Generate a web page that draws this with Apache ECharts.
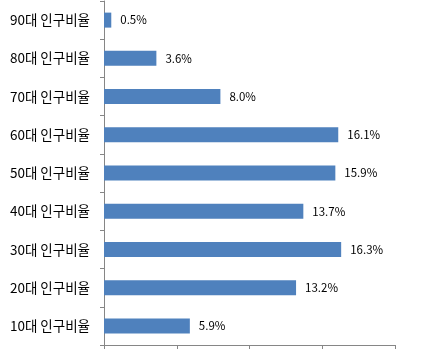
<!DOCTYPE html>
<html><head><meta charset="utf-8">
<script src="https://cdn.jsdelivr.net/npm/echarts@6/dist/echarts.min.js"></script>
<style>html,body{margin:0;padding:0;background:#fff}#c{width:423px;height:359px}</style>
</head><body><div id="c"></div>
<script>
const categories = ['10대 인구비율','20대 인구비율','30대 인구비율','40대 인구비율','50대 인구비율','60대 인구비율','70대 인구비율','80대 인구비율','90대 인구비율'];
const values = [5.9, 13.2, 16.3, 13.7, 15.9, 16.1, 8.0, 3.6, 0.5];
const chart = echarts.init(document.getElementById('c'));
const font = '"Noto Sans CJK KR", "Noto Sans", sans-serif';
chart.setOption({
  animation: false,
  grid: {left: 104, right: 28, top: 1, bottom: 14, containLabel: false},
  xAxis: {type: 'value', min: 0, max: 20, interval: 5,
    axisLine: {show: true, lineStyle: {color: '#868686'}},
    axisTick: {show: true, length: 4, lineStyle: {color: '#868686'}},
    axisLabel: {show: false}, splitLine: {show: false}},
  yAxis: {type: 'category', data: categories,
    axisLine: {show: true, lineStyle: {color: '#868686'}},
    axisTick: {show: true, length: 4, alignWithLabel: false, lineStyle: {color: '#868686'}},
    axisLabel: {color: '#000', fontSize: 13.5, fontFamily: font, margin: 14}},
  series: [{type: 'bar', data: values, barWidth: 15,
    itemStyle: {color: '#4F81BD'},
    label: {show: true, position: 'right', distance: 9, color: '#000', fontSize: 11.5, fontFamily: font,
      formatter: p => p.value.toFixed(1) + '%'}}]
});
</script></body></html>
